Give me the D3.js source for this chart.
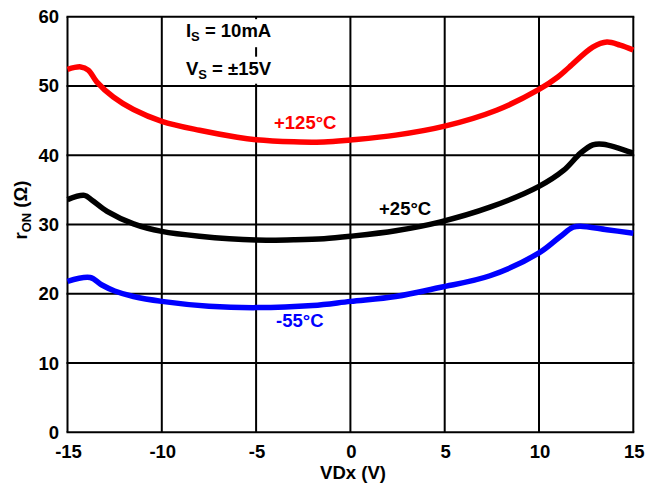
<!DOCTYPE html>
<html><head><meta charset="utf-8">
<script src="https://cdn.jsdelivr.net/npm/d3@7"></script>
<style>
html,body{margin:0;padding:0;background:#fff;}
svg text{font-family:"Liberation Sans",Arial,sans-serif;font-weight:bold;}
</style></head>
<body><svg id="c" width="655" height="483"></svg>
<script>
const xTicks = [-15,-10,-5,0,5,10,15];
const yTicks = [0,10,20,30,40,50,60];

const red125 = [[-15,52.4],[-14.3,52.75],[-13.9,52.3],[-13.45,50.6],[-12.57,48.4],[-11.5,46.6],[-10,44.9],[-8,43.6],[-6,42.6],[-5,42.25],[-3,41.95],[-1.4,41.9],[0,42.2],[2.4,42.9],[5,44.2],[7.75,46.5],[10,49.5],[11,51.3],[11.6,52.7],[12.85,55.6],[13.6,56.35],[14.3,55.9],[15,55.2]];
const black25 = [[-15,33.6],[-14.1,34.2],[-13.7,33.5],[-12.9,31.9],[-11.5,30.1],[-10,29.0],[-8,28.3],[-5,27.75],[-3,27.8],[-1.4,27.95],[0,28.3],[2.4,29.1],[4.73,30.35],[7.4,32.5],[10,35.5],[11.3,37.8],[12.2,40.3],[12.85,41.5],[13.4,41.6],[15,40.3]];
const blue55 = [[-15,21.8],[-13.8,22.35],[-13.2,21.3],[-12.5,20.4],[-11.5,19.6],[-10,18.9],[-7.5,18.2],[-5,18.0],[-2,18.3],[0,18.9],[2.4,19.6],[4.73,20.9],[7.4,22.6],[10,25.9],[11.1,28.2],[11.8,29.6],[12.2,29.75],[13.6,29.25],[15,28.75]];

const seriesNames = ["+125°C","+25°C","-55°C"];
const seriesColors = ["#ff0000","#000000","#0000ff"];
const labelPos = [[-4.05,43.8],[1.52,31.36],[-3.94,15.17]];

const svg = d3.select("#c");
const x = d3.scaleLinear().domain([-15,15]).range([67.5,633.3]);
const y = d3.scaleLinear().domain([0,60]).range([432.3,16.7]);
const FS = 18.5;

// grid
const g = svg.append("g");
g.selectAll(".vx").data(xTicks).join("line")
  .attr("x1",d=>x(d)).attr("x2",d=>x(d)).attr("y1",y(0)).attr("y2",y(60))
  .attr("stroke","#000").attr("stroke-width",2);
g.selectAll(".hy").data(yTicks).join("line")
  .attr("y1",d=>y(d)).attr("y2",d=>y(d)).attr("x1",x(-15)-1).attr("x2",x(15)+1)
  .attr("stroke","#000").attr("stroke-width",2);

// annotation boxes (white background covering grid)
const annX = -8.72;
const ann = [["I","S"," = 10mA",57.0],["V","S"," = ±15V",51.6]];
svg.append("rect").attr("x",x(annX)-4).attr("y",y(60)+2.5).attr("width",96).attr("height",28).attr("fill","#fff");
svg.append("rect").attr("x",x(annX)-4).attr("y",y(60)+40).attr("width",96).attr("height",27).attr("fill","#fff");
ann.forEach(a=>{
  const t = svg.append("text").attr("x",x(annX)).attr("y",y(a[3])).attr("font-size",FS).attr("fill","#000");
  t.append("tspan").text(a[0]);
  t.append("tspan").attr("dy",4).attr("font-size",13).text(a[1]);
  t.append("tspan").attr("dy",-4).text(a[2]);
});

// curves
const line = d3.line().x(d=>x(d[0])).y(d=>y(d[1])).curve(d3.curveCatmullRom.alpha(0.5));
[red125,black25,blue55].forEach((s,i)=>{
  svg.append("path").datum(s).attr("d",line).attr("fill","none")
    .attr("stroke",seriesColors[i]).attr("stroke-width",5.5).attr("stroke-linejoin","round");
  svg.append("text").attr("x",x(labelPos[i][0])).attr("y",y(labelPos[i][1]))
    .attr("font-size",FS).attr("fill",seriesColors[i]).text(seriesNames[i]);
});

// tick labels
svg.selectAll(".xt").data(xTicks).join("text")
  .attr("x",d=>x(d)+1).attr("y",458).attr("text-anchor","middle").attr("font-size",FS).text(d=>d);
svg.selectAll(".yt").data(yTicks).join("text")
  .attr("x",59).attr("y",d=>y(d)+6.5).attr("text-anchor","end").attr("font-size",FS).text(d=>d);

// axis titles
svg.append("text").attr("x",353).attr("y",479).attr("text-anchor","middle").attr("font-size",FS).text("VDx (V)");
const yl = svg.append("text").attr("transform","translate(27,210) rotate(-90)").attr("text-anchor","middle").attr("font-size",FS);
yl.append("tspan").text("r");
yl.append("tspan").attr("dy",4).attr("font-size",13).text("ON");
yl.append("tspan").attr("dy",-4).text(" (Ω)");
</script></body></html>
